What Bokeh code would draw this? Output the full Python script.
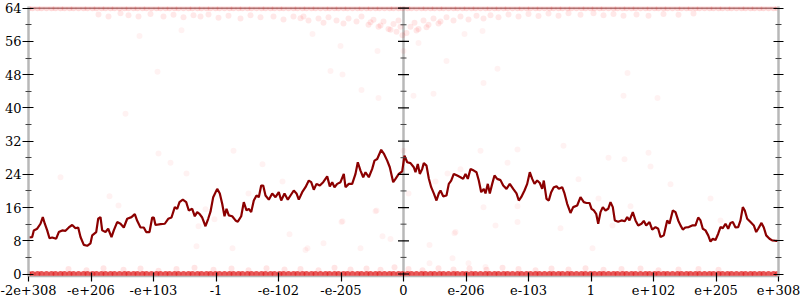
from bokeh.plotting import figure
from bokeh.models import Range1d, FixedTicker, LinearAxis, Span
from bokeh.embed import file_html
from bokeh.resources import INLINE

# ---------------- data ----------------
x_tick_pos = [0, 62.5, 125, 187.5, 250, 312.5, 375, 437.5, 500, 562.5, 625, 687.5, 750]
x_tick_labels = ["-2e+308", "-e+206", "-e+103", "-1", "-e-102", "-e-205", "0",
                 "e-206", "e-103", "1", "e+102", "e+205", "e+308"]
y_ticks = [0, 8, 16, 24, 32, 40, 48, 56, 64]
y_minor = [4, 12, 20, 28, 36, 44, 52, 60]

line_x = [0, 3.7, 5.3, 8.7, 12, 14.3, 16.3, 18.7, 21, 23.7, 27.7, 30.3, 33.7, 37, 40.3, 43.7, 47, 49.7,
          52, 55.3, 58.7, 62, 63.7, 67.7, 69.7, 72, 73.7, 77, 79.7, 83, 85.3, 88.7, 92, 95.3, 98.7, 103,
          106.3, 108.7, 112, 115.3, 117.7, 121, 123.7, 125.3, 127, 132, 136.3, 139.7, 143, 146.3, 148.7,
          151, 154.3, 157.7, 160.3, 163.7, 166.3, 168.7, 171, 173.7, 177, 179.7, 182, 184.7, 188.7, 191.3,
          193.7, 196, 198, 200.3, 203.7, 207, 209.3, 212.7, 215.3, 218, 220.3, 222.7, 225.3, 228, 230.3,
          232.7, 234.7, 237, 240.3, 243.7, 247, 250.3, 252.7, 256, 259.3, 262, 265.3, 268, 270.3, 273.7,
          277, 280.3, 282.7, 285.3, 288, 291.3, 294.7, 298.7, 301.3, 303.7, 306, 308.7, 312, 315.3, 317,
          320.3, 323.7, 327, 329.3, 332, 334.7, 337, 340.3, 343.7, 346, 348.7, 352.7, 355.3, 358.7, 361.3,
          364.7, 367, 370.3, 373.7, 376, 378.7, 382, 385.3, 387, 389.3, 391.3, 393.7, 395.3, 398, 400.3,
          402.7, 405.3, 408, 410.3, 412, 414.7, 418, 420.3, 422.7, 425.3, 428.7, 432, 434.7, 437, 439.3,
          442, 445.3, 448, 450.3, 452.7, 455.3, 457, 459.3, 461.3, 463.7, 466, 468.7, 472, 474.7, 478,
          481.3, 484.7, 488, 490.3, 492.7, 496, 498.7, 501.3, 503.7, 506, 508.7, 511.3, 513.7, 515.3, 518,
          520.3, 522.7, 525.3, 528, 530.3, 533.7, 536, 538.7, 542, 544.7, 548.7, 552, 555.3, 558, 561, 563,
          565.3, 567.7, 569.7, 572, 574.3, 577, 579.7, 582, 584.3, 586.3, 589.7, 593, 596.3, 598.7, 601,
          604.3, 607, 609.7, 613, 615.3, 617.7, 621, 623.7, 627, 629.7, 632, 635.3, 638.7, 641, 644.3, 647,
          649.7, 652, 654.3, 657, 660.3, 663.7, 667, 669.7, 672, 674.3, 677, 679.7, 682, 684.3, 687, 689.7,
          692, 694.3, 697, 699.7, 702, 704.3, 707, 709.7, 712, 714.3, 716.3, 718.7, 722, 725.3, 727.7,
          729.7, 733, 735.3, 737.7, 741, 743.7, 747, 750]
line_y = [8.8, 8.9, 10.5, 10.9, 12.1, 13.7, 12.1, 10.5, 8.6, 8.8, 8.5, 10.1, 10.5, 10.4, 11.2, 11.8, 11.0, 11.2,
          8.9, 7.0, 6.8, 7.4, 9.3, 10.1, 13.3, 13.7, 10.5, 10.1, 10.9, 8.9, 10.5, 12.5, 12.1, 11.2, 13.3, 13.7,
          14.4, 12.8, 11.2, 11.2, 10.1, 10.1, 13.6, 13.6, 11.8, 12.0, 12.1, 13.3, 13.6, 16.1, 15.7,
          17.3, 17.9, 17.3, 15.3, 15.7, 13.9, 14.9, 14.5, 13.6, 11.5, 13.3, 15.0, 18.5, 20.5, 19.4,
          16.9, 13.9, 15.7, 14.1, 13.9, 12.9, 12.6, 13.9, 17.3, 15.3, 15.7, 14.9, 17.7, 18.9, 18.5,
          21.3, 21.3, 18.9, 17.9, 19.4, 18.5, 19.7, 17.7, 19.4, 17.9, 18.9, 20.1, 19.4, 17.9, 19.7,
          20.9, 22.5, 22.1, 20.3, 21.7, 21.3, 22.1, 23.5, 21.1, 22.1, 20.9, 21.7, 22.1, 24.1, 20.9,
          21.7, 21.7, 24.1, 26.9, 24.9, 23.3, 24.5, 23.3, 25.3, 27.3, 27.7, 29.9, 29.0, 27.3, 25.7,
          22.1, 22.9, 24.1, 24.7, 28.5, 26.9, 26.7, 25.7, 24.5, 26.5, 24.1, 25.3, 26.7, 26.1, 23.0,
          20.9, 19.4, 17.7, 19.4, 20.1, 18.7, 18.9, 21.7, 22.5, 24.1, 23.7, 23.3, 22.9, 24.1, 22.9,
          25.3, 24.9, 24.5, 22.5, 19.7, 20.5, 19.4, 21.7, 19.4, 21.7, 23.7, 22.9, 22.6, 21.3, 20.5,
          21.7, 20.5, 19.4, 17.7, 18.5, 20.1, 21.7, 24.5, 22.9, 21.7, 22.5, 21.9, 20.5, 22.5, 18.1,
          17.7, 19.7, 20.9, 21.1, 20.5, 20.9, 19.4, 16.9, 14.7, 16.1, 16.5, 18.5, 17.3, 17.1, 17.1, 15.7,
          15.3, 14.5, 12.1, 14.9, 16.1, 15.3, 15.7, 17.3, 16.1, 12.9, 12.6, 12.9, 12.7, 13.7, 12.9,
          14.9, 12.9, 11.7, 12.1, 12.8, 11.7, 12.5, 10.7, 11.3, 10.9, 8.9, 9.3, 12.9, 12.1, 15.3, 14.9,
          12.9, 11.7, 10.7, 11.2, 11.3, 11.7, 11.7, 13.6, 12.9, 10.9, 10.5, 9.3, 7.8, 8.5, 8.2, 9.7,
          11.3, 11.0, 12.1, 10.9, 12.3, 12.5, 11.2, 11.3, 12.9, 16.1, 15.3, 13.3, 12.5, 11.7, 10.1,
          10.9, 12.3, 11.2, 9.3, 8.5, 8.1, 8.0, 8.0]

# sample positions of the dense bands (errors of 0 and 64 bits)
band_x = [0, 4, 9, 13, 18, 23, 27, 32, 36, 41, 45, 50, 55, 59, 64, 68, 73, 77, 82, 86, 91, 96, 100, 105,
          109, 114, 118, 123, 128, 132, 137, 141, 146, 150, 155, 160, 164, 169, 173, 178, 182, 187, 191,
          196, 201, 205, 210, 214, 219, 223, 228, 233, 237, 242, 246, 251, 255, 260, 265, 269, 274, 278,
          283, 287, 292, 297, 301, 306, 310, 315, 319, 324, 329, 333, 338, 342, 347, 351, 356, 361, 365,
          370, 374, 379, 383, 388, 393, 397, 402, 406, 411, 415, 420, 425, 429, 434, 438, 443, 447, 452,
          457, 461, 466, 470, 475, 479, 484, 489, 493, 498, 502, 507, 511, 516, 521, 525, 530, 534, 539,
          543, 548, 553, 557, 562, 566, 571, 575, 580, 585, 589, 594, 598, 603, 607, 612, 617, 621, 626,
          630, 635, 639, 644, 649, 653, 658, 662, 667, 671, 676, 681, 685, 690, 694, 699, 703, 708, 713,
          717, 722, 726, 731, 735, 740, 745, 749]

# near-maximum errors (56..63 bits)
upper_x = [70, 80, 92, 100, 110, 122, 135, 145, 155, 165, 172, 180, 190, 200, 212, 222, 232, 245, 255, 265,
           272, 275, 280, 290, 295, 300, 308, 315, 320, 328, 333, 340, 345, 350, 355, 360, 365, 368, 372,
           374, 370, 378, 382, 386, 390, 395, 400, 405, 410, 418, 425, 432, 440, 448, 455, 462, 470, 480,
           490, 500, 510, 520, 530, 540, 552, 565, 575, 585, 595, 608, 620, 635, 650, 665, 362, 352, 342,
           388, 398, 412]
upper_y = [62.5, 62, 62.8, 62.3, 62, 62.6, 62, 62.4, 61.8, 62.3, 62, 62.5, 61.7, 62.2, 61.5, 62.3, 61.8,
           62, 61.3, 62, 61.6, 62, 61, 61.5, 60.5, 61.8, 61, 60.3, 61.5, 60.8, 62, 60, 61.2, 59.5, 60.8,
           59, 60.2, 58.3, 59.5, 57.5, 61, 58, 59.5, 60.5, 59, 61, 60, 61.5, 60.3, 61.8, 61, 62, 61.3,
           62.2, 61.5, 62.3, 61.8, 62.5, 62, 62.6, 62.1, 62.7, 62.2, 62.8, 62.4, 62.8, 62.3, 62.6, 62.2,
           62.5, 62.2, 62.6, 62.4, 62.7, 58.8, 59.8, 60.6, 58.6, 59.4, 60.8]

# scattered intermediate errors
mid_x = [111, 153, 129, 284, 312, 349, 302, 314, 333, 350, 375, 390, 418, 455, 469, 385, 405, 436, 454,
         599, 595, 629, 97, 130, 142, 158, 32, 81, 90, 177, 186, 170, 168, 205, 234, 254, 220, 261, 295,
         314, 347, 354, 362, 332, 279, 204, 375, 291, 452, 489, 535, 479, 432, 419, 407, 380, 550, 455,
         489, 489, 467, 427, 401, 532, 580, 596, 620, 622, 642, 682, 570, 602, 692, 584, 564, 348, 313,
         277, 426, 424, 440, 401, 457]
mid_y = [57.3, 58.7, 48.7, 57.8, 54.9, 53.7, 48.9, 48, 44.3, 42.4, 53.7, 55.6, 51.3, 46, 49.4, 42.9, 43.4,
         57.8, 58.5, 48.4, 42.9, 42.4, 38.6, 29, 26.8, 24.2, 23.3, 18.7, 16.5, 15.6, 13.2, 11.5, 6.7, 29.7,
         26.4, 22.3, 19.4, 9.6, 7.4, 12.7, 15.1, 9.1, 8.4, 6.2, 6.2, 6.2, 29.7, 21.6, 29.7, 30, 30.9, 26.8,
         25.2, 24.2, 22.3, 19.4, 22.8, 16.1, 16.3, 12.5, 11.7, 10.1, 7, 11, 28, 27.6, 29.2, 25.9, 21.6,
         18.2, 18.2, 16.3, 12.9, 11.7, 6.2, 15.3, 12.5, 5.8, 9.8, 3.8, 2.6, 2.6, 1.7]

# low errors (about 1 bit)
low_x = [40, 58, 75, 95, 112, 130, 148, 166, 185, 203, 220, 238, 256, 272, 290, 306, 322, 338, 352, 366,
         380, 394, 410, 425, 441, 458, 474, 490, 507, 523, 540, 557, 575, 593, 612, 630, 650, 670, 690]
low_y = [1.2, 0.9, 1.4, 1.0, 1.3, 0.8, 1.2, 1.5, 1.0, 1.3, 0.9, 1.4, 1.1, 1.2, 0.9, 1.5, 1.1, 1.3, 1.0, 1.6,
         1.2, 0.9, 1.4, 1.1, 1.3, 1.0, 1.5, 1.2, 0.9, 1.3, 1.1, 1.4, 1.0, 1.2, 1.3, 0.9, 1.1, 1.2, 1.0]

# ---------------- figure ----------------
SERIF = "DejaVu Serif"
p = figure(width=800, height=300, output_backend="svg", toolbar_location=None,
           x_range=Range1d(x_tick_pos[0], x_tick_pos[-1]), y_range=Range1d(-0.6, 64.4),
           min_border_left=28, min_border_right=22, min_border_top=6, min_border_bottom=24)
p.outline_line_color = None
p.xgrid.visible = False
p.ygrid.visible = False
p.background_fill_color = "white"
p.border_fill_color = "white"

RED = "#ff0000"
band_top = [y_ticks[-1]] * len(band_x)
band_bot = [y_ticks[0]] * len(band_x)
p.scatter(band_x, band_top, size=6, fill_color=RED, fill_alpha=0.15, line_color=None)
p.scatter(low_x, low_y, size=6, fill_color=RED, fill_alpha=0.1, line_color=None)
p.scatter(band_x, band_bot, size=6, fill_color="#e02020", fill_alpha=0.75, line_color=None)
p.scatter(upper_x, upper_y, size=6, fill_color=RED, fill_alpha=0.09, line_color=None)
p.scatter(mid_x, mid_y, size=6, fill_color=RED, fill_alpha=0.05, line_color=None)

p.line(line_x, line_y, line_color="#8b0000", line_width=2.2)

AXIS_GRAY = "#b8b8b8"
# x axis
xa = p.xaxis[0]
xa.ticker = FixedTicker(ticks=x_tick_pos)
xa.major_label_overrides = {t: l for t, l in zip(x_tick_pos, x_tick_labels)}
xa.axis_line_color = AXIS_GRAY
xa.axis_line_width = 1.5
xa.major_tick_in = 4
xa.major_tick_out = 5
xa.major_tick_line_color = "black"
xa.major_tick_line_width = 1.2
xa.minor_tick_line_color = None
xa.major_label_text_font = SERIF
xa.major_label_text_font_size = "13px"
xa.major_label_text_color = "black"
xa.major_label_standoff = 3

# left y axis
ya = p.yaxis[0]
ya.ticker = FixedTicker(ticks=y_ticks, minor_ticks=y_minor)
ya.axis_line_color = AXIS_GRAY
ya.axis_line_width = 2.5
ya.major_tick_in = 5
ya.major_tick_out = 6
ya.major_tick_line_color = "black"
ya.major_tick_line_width = 1.2
ya.minor_tick_in = 3
ya.minor_tick_out = 3
ya.minor_tick_line_color = "#444444"
ya.major_label_text_font = SERIF
ya.major_label_text_font_size = "13px"
ya.major_label_text_color = "black"
ya.major_label_standoff = 1

# right y axis (no labels)
ra = LinearAxis(ticker=FixedTicker(ticks=y_ticks, minor_ticks=y_minor))
ra.axis_line_color = AXIS_GRAY
ra.axis_line_width = 2.5
ra.major_tick_in = 5
ra.major_tick_out = 5
ra.major_tick_line_color = "black"
ra.major_tick_line_width = 1.2
ra.minor_tick_in = 3
ra.minor_tick_out = 3
ra.minor_tick_line_color = "#444444"
ra.major_label_text_color = None
ra.major_label_text_font_size = "1px"
p.add_layout(ra, "right")

# centre axis at x = 0
cx = x_tick_pos[6]
p.add_layout(Span(location=cx, dimension="height", line_color=AXIS_GRAY, line_width=2.5, level="underlay"))
p.segment(x0=[cx - 5.5] * len(y_ticks), x1=[cx + 5.5] * len(y_ticks), y0=y_ticks, y1=y_ticks,
          line_color="black", line_width=1.2)
p.segment(x0=[cx - 3] * len(y_minor), x1=[cx + 3] * len(y_minor), y0=y_minor, y1=y_minor,
          line_color="#444444", line_width=1)

# top border line at 64 bits
p.add_layout(Span(location=y_ticks[-1], dimension="width", line_color="#9a8a8a", line_width=1.5,
                  level="underlay"))

open("out.html", "w").write(file_html(p, INLINE))
